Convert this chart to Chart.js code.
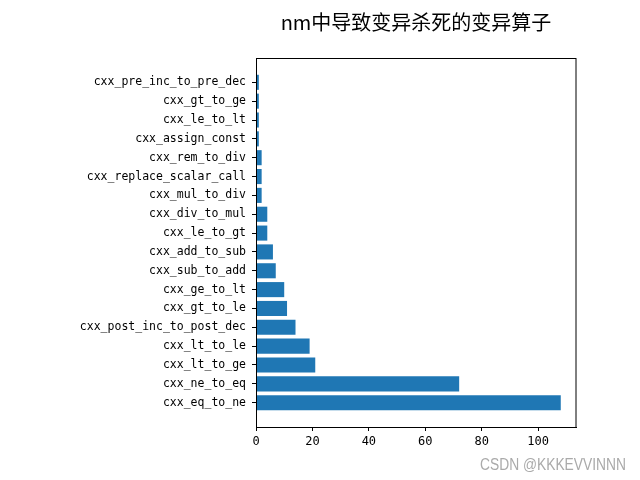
<!DOCTYPE html>
<html>
<head>
<meta charset="utf-8">
<script src="https://cdn.jsdelivr.net/npm/chart.js@4/dist/chart.umd.min.js"></script>
<style>
html,body{margin:0;padding:0;background:#fff;}
#wrap{width:640px;height:480px;}
</style>
</head>
<body>
<div id="wrap"><canvas id="c" width="640" height="480"></canvas></div>
<script>
// Data in bottom-to-top order (as drawn by the reference)
const categories = [
  "cxx_eq_to_ne","cxx_ne_to_eq","cxx_lt_to_ge","cxx_lt_to_le","cxx_post_inc_to_post_dec",
  "cxx_gt_to_le","cxx_ge_to_lt","cxx_sub_to_add","cxx_add_to_sub","cxx_le_to_gt",
  "cxx_div_to_mul","cxx_mul_to_div","cxx_replace_scalar_call","cxx_rem_to_div",
  "cxx_assign_const","cxx_le_to_lt","cxx_gt_to_ge","cxx_pre_inc_to_pre_dec"
];
const killCounts = [108,72,21,19,14,11,10,7,6,4,4,2,2,2,1,1,1,1];
const xTicks = [0,20,40,60,80,100];
const titleText = "nm中导致变异杀死的变异算子";
const watermarkText = "CSDN @KKKEVVINNN";

const n = categories.length;
const yLo = -0.4, yHi = n - 1 + 0.4, yM = 0.05 * (yHi - yLo);
const xMax = Math.max(...killCounts) * 1.05;

const monoFont = '"DejaVu Sans Mono", monospace';

const decor = {
  id: 'decor',
  afterDraw(chart) {
    const ctx = chart.ctx, a = chart.chartArea;
    ctx.save();
    ctx.strokeStyle = '#000';
    ctx.lineWidth = 1;
    ctx.strokeRect(Math.round(a.left) + 0.5, Math.round(a.top) + 0.5,
                   Math.round(a.right - a.left) - 1 + 0.5, Math.round(a.bottom - a.top));
    ctx.fillStyle = '#000';
    ctx.font = '20px "Noto Sans CJK SC"';
    ctx.textAlign = 'center';
    ctx.textBaseline = 'alphabetic';
    ctx.fillText(titleText, (a.left + a.right) / 2, 30);
    ctx.fillStyle = '#aaaaaa';
    ctx.font = '16px "Liberation Sans"';
    ctx.textAlign = 'left';
    ctx.fillText(watermarkText, 480, 470, 146);
    ctx.restore();
  }
};

new Chart(document.getElementById('c'), {
  type: 'bar',
  data: {
    datasets: [{
      data: killCounts.map((v, i) => ({x: v, y: i})),
      backgroundColor: '#1f77b4',
      borderWidth: 0,
      barPercentage: 0.8,
      categoryPercentage: 1.0
    }]
  },
  options: {
    indexAxis: 'y',
    responsive: false,
    animation: false,
    layout: {padding: {left: 0, right: 64, top: 58, bottom: 23}},
    plugins: {legend: {display: false}, tooltip: {enabled: false}, title: {display: false}},
    scales: {
      y: {
        type: 'linear',
        offset: false,
        min: yLo - yM,
        max: yHi + yM,
        afterBuildTicks(scale) { scale.ticks = categories.map((_, i) => ({value: i})); },
        afterFit(scale) { scale.width = 256; },
        ticks: {
          autoSkip: false,
          color: '#000',
          font: {family: monoFont, size: 11.5},
          padding: 6,
          callback: (v) => categories[v] ?? ''
        },
        grid: {drawOnChartArea: false, drawTicks: true, tickLength: 4, color: '#000', offset: false},
        border: {display: true, color: '#000'}
      },
      x: {
        type: 'linear',
        min: 0,
        max: xMax,
        afterBuildTicks(scale) { scale.ticks = xTicks.map(v => ({value: v})); },
        afterFit(scale) { scale.height = 30; },
        ticks: {
          color: '#000',
          font: {family: monoFont, size: 12},
          padding: 4,
          maxRotation: 0,
          callback: (v) => String(v)
        },
        grid: {drawOnChartArea: false, drawTicks: true, tickLength: 4, color: '#000'},
        border: {display: true, color: '#000'}
      }
    }
  },
  plugins: [decor]
});
</script>
</body>
</html>
